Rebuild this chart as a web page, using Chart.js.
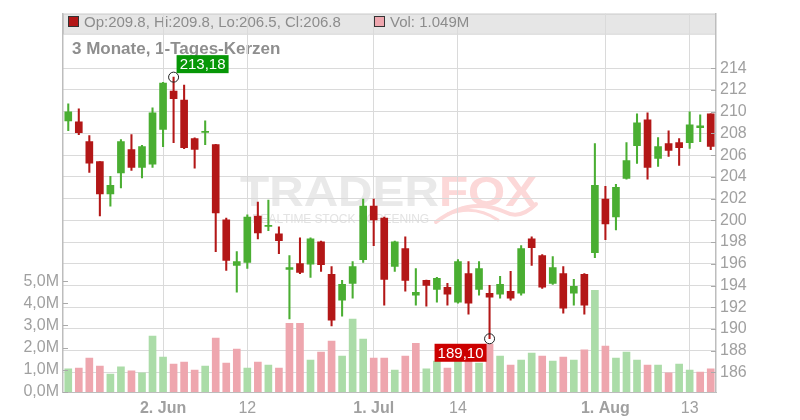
<!DOCTYPE html>
<html lang="de">
<head>
<meta charset="UTF-8">
<title>3 Monate, 1-Tages-Kerzen</title>
<script src="https://cdn.jsdelivr.net/npm/chart.js"></script>
<style>
  body { margin: 0; background: #fff; }
  #wrap { width: 800px; height: 420px; }
</style>
</head>
<body>
<div id="wrap"><canvas id="chart" width="800" height="420"></canvas></div>
<script>
// trading days (2025)
const days = ['19.05.','20.05.','21.05.','22.05.','23.05.','27.05.','28.05.','29.05.','30.05.',
  '02.06.','03.06.','04.06.','05.06.','06.06.','09.06.','10.06.','11.06.','12.06.','13.06.','16.06.',
  '17.06.','18.06.','20.06.','23.06.','24.06.','25.06.','26.06.','27.06.','30.06.',
  '01.07.','02.07.','03.07.','07.07.','08.07.','09.07.','10.07.','11.07.','14.07.','15.07.','16.07.',
  '17.07.','18.07.','21.07.','22.07.','23.07.','24.07.','25.07.','28.07.','29.07.','30.07.','31.07.',
  '01.08.','04.08.','05.08.','06.08.','07.08.','08.08.','11.08.','12.08.','13.08.','14.08.','15.08.'];

const open = [209.16,209.07,207.25,205.42,202.44,204.36,206.52,204.88,205.18,208.37,
  211.90,211.08,207.52,208.10,206.97,200.04,195.84,196.12,200.40,199.45,
  198.76,195.48,196.03,195.96,198.03,195.02,192.65,194.20,196.39,201.32,
  200.22,195.75,197.39,193.11,194.47,193.65,193.84,192.47,195.11,193.65,
  193.29,193.20,193.47,193.29,198.30,196.76,194.20,195.11,193.29,195.02,
  197.03,201.96,200.31,203.87,206.88,209.26,205.70,207.07,207.16,207.16,
  208.53,209.80];
const high = [210.72,210.26,207.80,205.42,204.05,207.43,207.89,206.90,210.35,212.70,
  213.18,212.45,207.60,209.16,207.00,200.22,197.12,200.50,201.68,201.87,
  199.40,196.76,198.40,198.40,198.10,195.75,194.47,196.20,201.96,201.96,
  200.30,198.10,198.49,195.57,194.50,194.75,194.20,196.39,196.21,196.21,
  194.02,194.84,195.30,197.67,198.49,196.85,196.67,195.75,194.56,195.10,
  207.07,203.14,203.32,207.16,209.80,209.89,207.61,208.25,207.52,209.99,
  209.71,209.80];
const low = [208.25,207.89,204.42,200.40,201.30,202.99,204.60,203.90,204.88,206.79,
  207.16,206.60,204.80,206.97,197.12,195.39,193.38,195.57,198.30,199.04,
  196.94,190.92,195.10,194.75,195.30,190.28,191.19,192.83,196.12,197.67,
  192.20,195.30,193.47,192.20,192.10,192.47,192.20,192.38,191.37,193.11,
  189.10,192.83,192.65,193.11,195.84,193.74,194.10,191.46,192.20,191.37,
  196.57,198.22,199.13,203.80,205.24,203.78,204.97,205.88,205.06,206.61,
  207.25,206.50];
const close = [209.99,208.07,205.27,202.44,203.23,207.25,204.88,206.79,209.89,212.63,
  211.20,206.70,206.52,208.20,200.68,196.30,196.20,200.31,198.85,199.55,
  198.12,195.66,195.20,198.30,195.93,190.82,194.11,195.75,201.32,200.04,
  194.57,198.03,194.47,193.38,194.02,194.66,193.20,196.21,192.38,195.57,
  192.92,194.11,192.83,197.39,197.49,193.84,195.66,191.92,193.93,192.20,
  203.23,199.68,203.05,205.51,208.98,204.88,206.79,206.43,206.70,208.80,
  208.70,206.80];
// volume in millions
const volume = [1.04,1.08,1.53,1.17,0.81,1.13,0.95,0.86,2.52,1.58,
  1.26,1.35,0.99,1.17,2.43,1.30,1.94,1.08,1.35,1.22,
  1.08,3.10,3.10,1.44,1.80,2.30,1.62,3.29,2.39,1.53,
  1.53,0.99,1.62,2.20,1.04,1.40,1.08,1.40,1.60,1.30,
  2.16,1.62,1.22,1.44,1.76,1.62,1.40,1.58,1.44,1.90,
  4.59,2.07,1.53,1.80,1.44,1.22,1.22,0.86,1.26,0.99,
  0.90,1.05];

const tickDays = ['02.06.','12.06.','01.07.','14.07.','01.08.','13.08.'];
const tickLabels = ['2. Jun','12','1. Jul','14','1. Aug','13'];
const tickBold = [true,false,true,false,true,false];
const priceTicks = [186,188,190,192,194,196,198,200,202,204,206,208,210,212,214];
const volTicks = [0,1,2,3,4,5];

const titleText = '3 Monate, 1-Tages-Kerzen';
const ohlcText = 'Op:209.8, Hi:209.8, Lo:206.5, Cl:206.8';
const volText = 'Vol: 1.049M';

const FONT = '"Liberation Sans", Arial, sans-serif';
const GREEN = '#4aae32', RED = '#b31717';
const VGREEN = '#abdca8', VRED = '#eea6ae';
const TICK = '#a0a0a0', GRID = '#dadada';

const tickIdx = tickDays.map(d => days.indexOf(d));
const up = close.map((c, i) => c >= open[i]);
const volUp = close.map((c, i) => i === 0 ? c >= open[i] : c >= close[i - 1]);

const decor = {
    id: 'decor',
    beforeDraw(chart) {
        const { ctx, chartArea: a } = chart;
        ctx.save();

        // watermark
        ctx.font = 'bold 42px ' + FONT;
        ctx.textBaseline = 'alphabetic';
        const w1 = ctx.measureText('TRADER').width;
        const w2 = ctx.measureText('FOX').width;
        const sx = 297 / (w1 + w2);
        ctx.save();
        ctx.translate(240, 206);
        ctx.scale(sx, 1);
        ctx.fillStyle = '#e9e9e9';
        ctx.fillText('TRADER', 0, 0);
        ctx.fillStyle = '#fcd8d8';
        ctx.fillText('FOX', w1, 0);
        ctx.restore();
        ctx.font = '12px ' + FONT;
        ctx.fillStyle = '#e3e3e3';
        const sub = 'REALTIME STOCK SCREENING';
        const subW = ctx.measureText(sub).width;
        const gap = (176 - subW) / (sub.length - 1);
        let px = 252;
        for (const ch of sub) {
            ctx.fillText(ch, px, 223);
            px += ctx.measureText(ch).width + gap;
        }
        // fox tail swirl
        ctx.strokeStyle = '#fcd8d8';
        ctx.lineCap = 'round';
        ctx.lineWidth = 4;
        ctx.beginPath();
        ctx.moveTo(436, 222);
        ctx.quadraticCurveTo(470, 196, 505, 212);
        ctx.quadraticCurveTo(520, 220, 536, 204);
        ctx.stroke();
        ctx.lineWidth = 3;
        ctx.beginPath();
        ctx.moveTo(448, 214);
        ctx.quadraticCurveTo(475, 204, 498, 220);
        ctx.stroke();

        // header bar
        ctx.fillStyle = '#e6e6e6';
        ctx.fillRect(a.left, a.top, a.right - a.left, 20);
        ctx.strokeStyle = '#cdcdcd';
        ctx.lineWidth = 1;
        ctx.strokeRect(a.left + 0.5, a.top + 0.5, a.right - a.left - 1, 20);

        ctx.fillStyle = RED;
        ctx.fillRect(68.5, 16.5, 10, 10);
        ctx.strokeStyle = '#333';
        ctx.strokeRect(68.5, 16.5, 10, 10);
        ctx.fillStyle = VRED;
        ctx.fillRect(374.5, 16.5, 10, 10);
        ctx.strokeRect(374.5, 16.5, 10, 10);

        ctx.font = '15px ' + FONT;
        ctx.fillStyle = '#8c8c8c';
        ctx.fillText(ohlcText, 84, 26.5);
        ctx.fillText(volText, 390, 26.5);

        ctx.font = 'bold 17px ' + FONT;
        ctx.fillStyle = '#8e8e8e';
        ctx.fillText(titleText, 72, 54);
        ctx.restore();
    },
    afterDraw(chart) {
        const { ctx, chartArea: a, scales } = chart;
        ctx.save();
        // inner tick marks
        ctx.strokeStyle = '#aaa';
        ctx.lineWidth = 1;
        scales.y.ticks.forEach(t => {
            const y = Math.round(scales.y.getPixelForValue(t.value)) + 0.5;
            ctx.beginPath(); ctx.moveTo(a.right - 5, y); ctx.lineTo(a.right, y); ctx.stroke();
        });
        scales.yVol.ticks.forEach(t => {
            const y = Math.round(scales.yVol.getPixelForValue(t.value)) + 0.5;
            ctx.beginPath(); ctx.moveTo(a.left, y); ctx.lineTo(a.left + 5, y); ctx.stroke();
        });

        // high / low markers
        const hi = Math.max(...high), iHi = high.indexOf(hi);
        const lo = Math.min(...low), iLo = low.indexOf(lo);
        const mark = (x, y, text, bg, bx, by) => {
            ctx.fillStyle = bg;
            ctx.fillRect(bx, by, 52, 18);
            ctx.fillStyle = '#fff';
            ctx.font = '15px ' + FONT;
            ctx.textAlign = 'center';
            ctx.textBaseline = 'middle';
            ctx.fillText(text, bx + 26, by + 10);
            ctx.strokeStyle = '#222';
            ctx.lineWidth = 1;
            ctx.beginPath(); ctx.arc(x, y, 5, 0, Math.PI * 2); ctx.stroke();
        };
        const fmt = v => v.toFixed(2).replace('.', ',');
        let x = scales.x.getPixelForValue(iHi), y = scales.y.getPixelForValue(hi);
        mark(x, y, fmt(hi), '#079707', x + 3, y - 22);
        x = scales.x.getPixelForValue(iLo); y = scales.y.getPixelForValue(lo);
        mark(x, y, fmt(lo), '#cc0000', x - 55, y + 5);
        ctx.restore();
    }
};

const ctx = document.getElementById('chart').getContext('2d');
new Chart(ctx, {
    type: 'bar',
    data: {
        labels: days,
        datasets: [
            {
                label: 'Kerze',
                data: open.map((o, i) => [o, close[i]]),
                yAxisID: 'y',
                backgroundColor: up.map(u => u ? GREEN : RED),
                barThickness: 7,
                grouped: false,
                order: 0
            },
            {
                label: 'Docht',
                data: low.map((l, i) => [l, high[i]]),
                yAxisID: 'y',
                backgroundColor: up.map(u => u ? GREEN : RED),
                barThickness: 1.4,
                grouped: false,
                order: 1
            },
            {
                label: 'Volumen',
                data: volume,
                yAxisID: 'yVol',
                backgroundColor: volUp.map(u => u ? VGREEN : VRED),
                barThickness: 7,
                grouped: false,
                order: 2
            }
        ]
    },
    options: {
        responsive: false,
        animation: false,
        layout: { padding: { top: 11, left: 0, right: 0, bottom: 0 } },
        plugins: { legend: { display: false }, tooltip: { enabled: false } },
        scales: {
            x: {
                offset: true,
                grid: { color: GRID, offset: false, drawTicks: false },
                border: { color: '#bdbdbd' },
                afterBuildTicks: s => { s.ticks = tickIdx.map(v => ({ value: v })); },
                ticks: {
                    autoSkip: false,
                    maxRotation: 0,
                    padding: 7,
                    color: TICK,
                    font: c => ({ family: FONT, size: 16, weight: tickBold[tickIdx.indexOf(c.tick ? c.tick.value : -1)] ? 'bold' : 'normal' }),
                    callback: v => tickLabels[tickIdx.indexOf(v)]
                },
                afterFit: s => { s.height = 28; }
            },
            y: {
                position: 'right',
                min: 184.2,
                max: 219.03,
                grid: { color: GRID, drawTicks: false },
                border: { color: '#bdbdbd', width: 1.5 },
                afterBuildTicks: s => { s.ticks = priceTicks.map(v => ({ value: v })); },
                ticks: { padding: 4, color: TICK, font: { family: FONT, size: 16 } },
                afterFit: s => { s.width = 84; }
            },
            yVol: {
                position: 'left',
                min: 0,
                max: 17.07,
                grid: { display: false, drawTicks: false },
                border: { color: '#bdbdbd', width: 1.5 },
                afterBuildTicks: s => { s.ticks = volTicks.map(v => ({ value: v })); },
                ticks: {
                    padding: 4,
                    color: TICK,
                    font: { family: FONT, size: 16 },
                    callback: v => v.toFixed(1).replace('.', ',') + 'M'
                },
                afterFit: s => { s.width = 63; }
            }
        }
    },
    plugins: [decor]
});
</script>
</body>
</html>
